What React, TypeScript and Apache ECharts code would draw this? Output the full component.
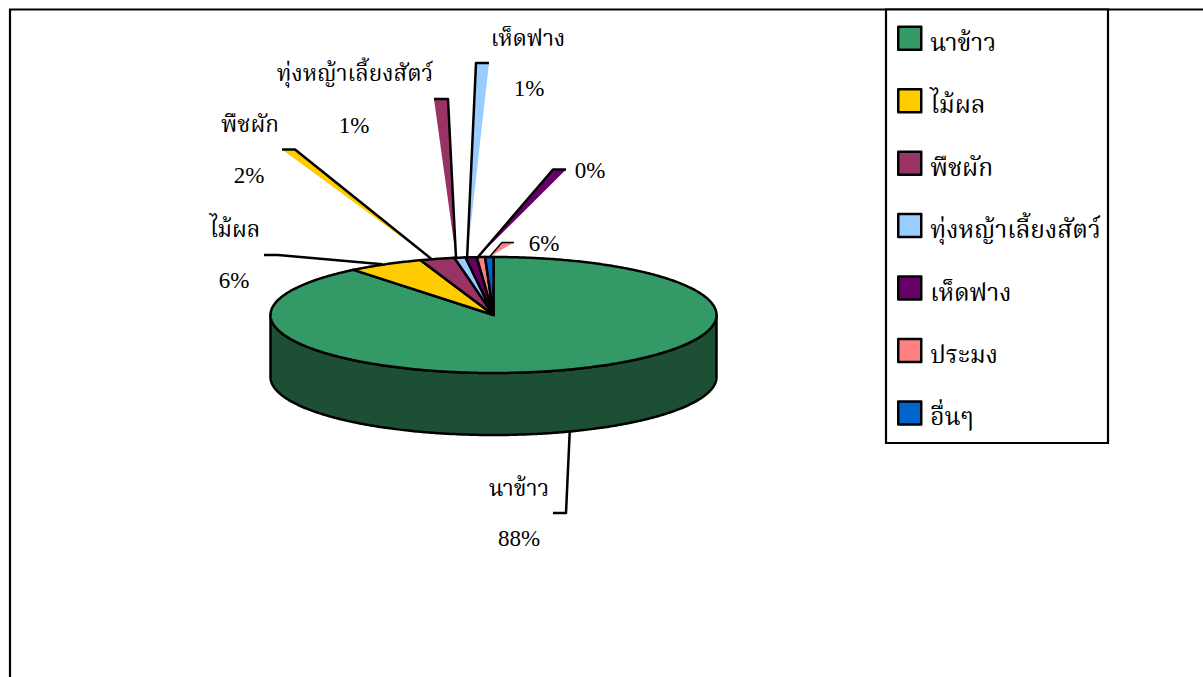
import React, { useEffect, useRef } from "react";
import * as echarts from "echarts";

const categories = ["นาข้าว", "ไม้ผล", "พืชผัก", "ทุ่งหญ้าเลี้ยงสัตว์", "เห็ดฟาง", "ประมง", "อื่นๆ"];
const sliceValues = [89.2, 5.5, 2.5, 0.8, 0.8, 0.6, 0.6];
// data-label texts as printed in the picture
const calloutNames = ["นาข้าว", "ไม้ผล", "พืชผัก", "ทุ่งหญ้าเลี้ยงสัตว์", "เห็ดฟาง", "", ""];
const calloutPercents = ["88%", "6%", "2%", "1%", "1%", "0%", "6%"];
const sliceColors = ["#339966", "#FFCC00", "#993366", "#99CCFF", "#660066", "#FF8080", "#0066CC"];

const WALL_COLOR = "#1C4F33";
const FONT = '"Liberation Serif", "Noto Serif Thai", "Noto Sans Thai", serif';
const CX = 493.5, CY = 315, RX = 223, RY = 58, DEPTH = 62;
const LINE = 2.5;

// leader start nudges, elbow + end, label anchors (layout only)
const leaderNudge = [2, -3, -6, -4, -4, -3, 0];
const leaderLayout: number[][][] = [
  [[566, 513], [553, 513]],
  [[278, 255], [264, 255]],
  [[295, 149.5], [282, 149.5]],
  [[448, 99], [434, 99]],
  [[476, 63], [489, 63]],
  [[553, 169.5], [566, 169.5]],
  [[502, 242.5], [514, 242.5]],
];
const nameAnchors: number[][] = [[519, 488], [235, 229], [250, 124], [355, 73], [528, 38], [0, 0], [0, 0]];
const percentAnchors: number[][] = [[519, 538], [234, 280], [249, 175], [354, 125], [529, 88], [590, 170], [544, 243]];

const total = sliceValues.reduce((a, b) => a + b, 0);
const toAngle = (v: number) => (v / total) * Math.PI * 2;
const rim = (t: number, dy = 0) => [CX + RX * Math.sin(t), CY - RY * Math.cos(t) + dy];
const arcPts = (a: number, b: number, dy = 0) => {
  const n = Math.max(2, Math.ceil(Math.abs(b - a) / 0.01));
  const out: number[][] = [];
  for (let i = 0; i <= n; i++) out.push(rim(a + ((b - a) * i) / n, dy));
  return out;
};

const starts: number[] = [];
sliceValues.reduce((acc, v, i) => ((starts[i] = acc), acc + v), 0);

const textEl = (text: string, p: number[], size: number) => ({
  type: "text",
  z2: 5,
  style: { text, x: p[0], y: p[1], fill: "#000", font: `${size}px ${FONT}`, align: "center", verticalAlign: "middle" },
});

const renderItem = (_p: any, api: any) => {
  const i = _p.dataIndex;
  const start = toAngle(api.value(0));
  const sweep = toAngle(api.value(1));
  const mid = start + sweep / 2;
  const children: any[] = [];
  const blk = { stroke: "#000", lineWidth: LINE, lineJoin: "round" };

  if (i === 0) {
    const top = arcPts(Math.PI / 2, (Math.PI * 3) / 2);
    const bottom = arcPts((Math.PI * 3) / 2, Math.PI / 2, DEPTH);
    children.push({ type: "polygon", z2: 0, shape: { points: [...top, ...bottom] }, style: { fill: WALL_COLOR, ...blk } });
  }
  const base = rim(mid, i === 0 ? DEPTH : 0);
  const apex = [base[0] + leaderNudge[i], base[1]];
  const [elbow, end] = leaderLayout[i];
  if (i >= 2) {
    children.push({
      type: "polygon", z2: 1, shape: { points: [apex, elbow, end] },
      style: { fill: sliceColors[i - 1], stroke: "none" },
    });
  }
  children.push({
    type: "polyline", z2: 2,
    shape: { points: [apex, elbow, end], smooth: 0 },
    style: { fill: "none", stroke: "#000", lineWidth: i === 6 ? 1.5 : LINE, lineJoin: "round" },
  });
  children.push({
    type: "polygon", z2: 3,
    shape: { points: [[CX, CY], ...arcPts(start, start + sweep)] },
    style: { fill: sliceColors[i], stroke: "#000", lineWidth: LINE, lineJoin: "miter", miterLimit: 10 },
  });
  if (calloutNames[i]) children.push(textEl(calloutNames[i], nameAnchors[i], 22.5));
  children.push(textEl(calloutPercents[i], percentAnchors[i], 23));
  return { type: "group", children };
};

export default function App() {
  const ref = useRef<HTMLDivElement>(null);
  useEffect(() => {
    const chart = echarts.init(ref.current!, null, { renderer: "svg" });
    chart.setOption({
      animation: false,
      backgroundColor: "#fff",
      color: sliceColors,
      legend: {
        orient: "vertical",
        left: 897,
        top: 25.5,
        padding: 0,
        icon: "rect",
        itemWidth: 23,
        itemHeight: 23,
        itemGap: 33.2,
        selectedMode: false,
        data: categories,
        itemStyle: { borderColor: "#000", borderWidth: LINE },
        formatter: (name: string) => `{t|${name}}`,
        textStyle: {
          rich: { t: { fontFamily: FONT, fontSize: 24.5, color: "#000", padding: [8, 0, 0, 4] } },
        },
      },
      graphic: [
        { type: "line", z: -1, shape: { x1: 9, y1: 9.5, x2: 1203, y2: 9.5 }, style: { stroke: "#000", lineWidth: 2.2 } },
        { type: "line", z: -1, shape: { x1: 10, y1: 9, x2: 10, y2: 677 }, style: { stroke: "#000", lineWidth: 2.2 } },
        { type: "rect", z: -1, shape: { x: 886, y: 9.5, width: 222, height: 433.5 }, style: { fill: "#fff", stroke: "#000", lineWidth: 2.2 } },
      ],
      series: [
        {
          type: "custom",
          coordinateSystem: "none",
          silent: true,
          clip: false,
          renderItem,
          data: sliceValues.map((v, i) => [starts[i], v]),
        },
        {
          type: "pie",
          radius: [0, 0],
          center: [-50, -50],
          silent: true,
          label: { show: false },
          labelLine: { show: false },
          data: categories.map((name, i) => ({ name, value: sliceValues[i] })),
        },
      ],
    });
    return () => chart.dispose();
  }, []);
  return <div ref={ref} style={{ position: "fixed", left: 0, top: 0, width: 1203, height: 677 }} />;
}
